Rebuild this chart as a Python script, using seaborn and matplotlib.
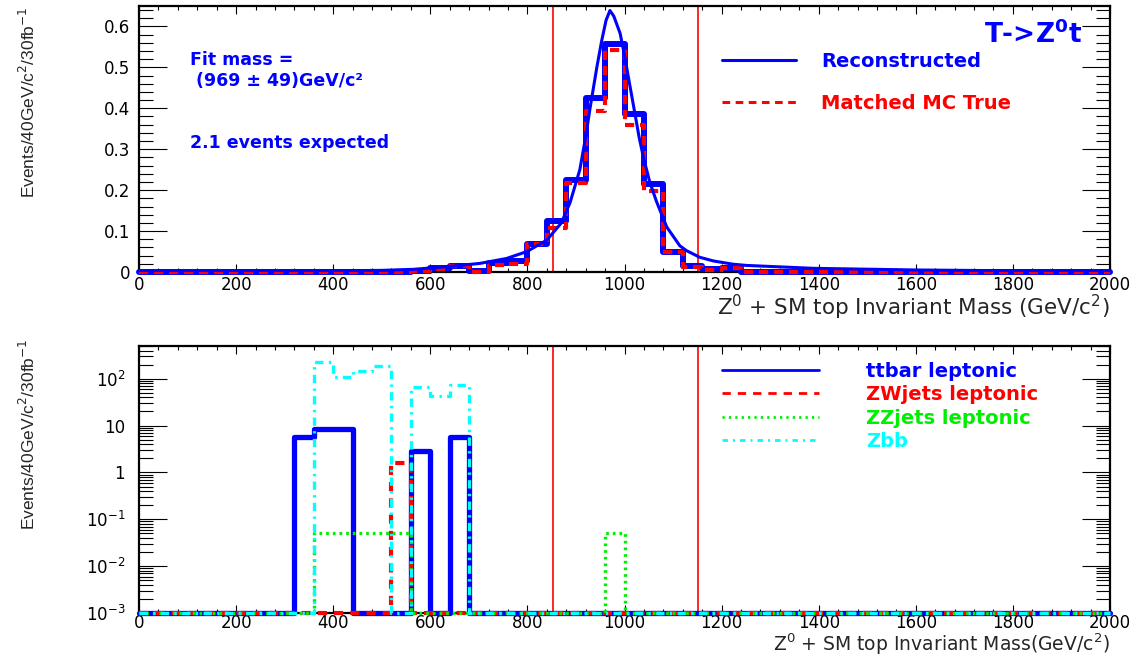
import numpy as np
import matplotlib
matplotlib.use("Agg")
import matplotlib.pyplot as plt
import seaborn as sns
from matplotlib.lines import Line2D
from matplotlib.ticker import MultipleLocator, FixedLocator, FixedFormatter, LogLocator, NullFormatter, FuncFormatter

# ---------------- data ----------------
bin_edges = np.arange(0, 2001, 40)          # 50 bins of 40 GeV

# top panel: signal T -> Z0 t  (bin index = edge/40)
reconstructed = [0]*14 + [0.003, 0.010, 0.015, 0.002, 0.021, 0.027, 0.068, 0.125, 0.224,
                          0.426, 0.558, 0.387, 0.214, 0.048, 0.015, 0.0065, 0.010, 0.001] + [0]*18
matched_mc = [0]*14 + [0.002, 0.008, 0.014, 0.000, 0.016, 0.020, 0.068, 0.107, 0.218,
                       0.393, 0.543, 0.358, 0.198, 0.048, 0.012, 0.006, 0.010, 0.001] + [0]*18

# fitted curve, points
fit_x = [0, 200, 400, 500, 565, 634, 702, 757, 799, 840, 870, 888, 908, 920, 929, 943, 953, 962,
         970, 978, 991, 1000, 1008, 1018, 1030, 1039, 1052, 1066, 1087, 1114, 1128, 1155, 1183, 1224,
         1252, 1389, 1595, 1800, 2000]
fit_y = [0.001, 0.0015, 0.003, 0.004, 0.0065, 0.013, 0.021, 0.033, 0.050, 0.078, 0.12, 0.170,
         0.250, 0.330, 0.40, 0.50, 0.565, 0.615, 0.639, 0.625, 0.583, 0.53, 0.476, 0.41, 0.33,
         0.280, 0.220, 0.172, 0.110, 0.064, 0.052, 0.036, 0.027, 0.019, 0.016, 0.009, 0.005, 0.003, 0.002]

# bottom panel: backgrounds
ttbar = [0]*8 + [5.7, 8.4, 8.4, 0, 0, 0, 2.8, 0, 5.7] + [0]*33
zwjets = [0]*13 + [1.58] + [0]*36
zzjets = [0]*9 + [0.052]*5 + [0]*10 + [0.052] + [0]*25
zbb = [0]*9 + [223, 109, 148, 183, 0, 68, 42, 72] + [0]*33

cut_window = [852, 1152]
fit_text = ["Fit mass =", " (969 \u00b1 49)GeV/c\u00b2", "2.1 events expected"]
log_ticks = [1e-3, 1e-2, 1e-1, 1, 10, 100]
log_labels = [r"$10^{-3}$", r"$10^{-2}$", r"$10^{-1}$", "1", "10", r"$10^{2}$"]

# ---------------- style ----------------
sns.set_theme(style="ticks")
plt.rcParams["font.family"] = ["DejaVu Sans"]
plt.rcParams["mathtext.fontset"] = "dejavusans"

BLUE, RED, GREEN, CYAN = "#0000ff", "#ff0000", "#00ee00", "#00ffff"
W, H = 1147, 656
fig = plt.figure(figsize=(W/100, H/100), dpi=100)
fig.patch.set_facecolor("white")
ax1 = fig.add_axes([139/W, 1-272/H, 971/W, 266/H])
ax2 = fig.add_axes([139/W, 1-613/H, 971/W, 267/H])


def step_line(ax, vals, color, lw, ls, floor=None, z=3):
    y = np.asarray(vals, float)
    if floor is not None:
        y = np.maximum(y, floor)
    y = np.append(y, y[-1])
    sns.lineplot(x=bin_edges, y=y, ax=ax, color=color, linewidth=lw, linestyle=ls,
                 drawstyle="steps-post", estimator=None, sort=False, clip_on=False, zorder=z)


def style_axis(ax, ypad, xpad):
    for s in ax.spines.values():
        s.set_linewidth(1.6)
        s.set_color("black")
    ax.tick_params(which="both", direction="in", top=True, right=True, colors="black",
                   width=0.8, labelsize=12)
    ax.tick_params(axis="x", which="major", length=5.5, pad=xpad)
    ax.tick_params(axis="x", which="minor", length=2.8)
    ax.tick_params(axis="y", which="major", length=20, pad=ypad)
    ax.tick_params(axis="y", which="minor", length=10)
    ax.set_xlim(0, 2000)
    ax.xaxis.set_major_locator(MultipleLocator(200))
    ax.xaxis.set_minor_locator(MultipleLocator(40))
    ax.set_facecolor("white")


# ---------------- top panel ----------------
step_line(ax1, reconstructed, BLUE, 4.3, "-", z=3)
step_line(ax1, matched_mc, RED, 3.0, (0, (2.2, 1.4)), z=4)
sns.lineplot(x=fit_x, y=fit_y, ax=ax1, color=BLUE, linewidth=2.2, estimator=None, sort=False, zorder=5)
for xc in cut_window:
    ax1.axvline(xc, color=RED, lw=1.2, zorder=2)
ax1.set_ylim(0, 0.65)
ax1.yaxis.set_major_locator(MultipleLocator(0.1))
ax1.yaxis.set_minor_locator(MultipleLocator(0.02))
ax1.yaxis.set_major_formatter(FuncFormatter(lambda v, p: f"{v:g}"))
style_axis(ax1, 6.5, 3)

ylab = "Events/40GeV/c$^2$/30fb$^{-1}$"
for ax, yy in ((ax1, 1.0), (ax2, 1.03)):
    ax.set_ylabel(ylab, loc="top", fontsize=12.5, family=["Liberation Sans Narrow", "Liberation Sans"])
    ax.yaxis.set_label_coords(-0.104, yy)

ax1.set_xlabel("Z$^0$ + SM top Invariant Mass (GeV/c$^2$)", loc="right", fontsize=15.5)
ax1.xaxis.set_label_coords(1.0, -0.078)

txt_kw = dict(transform=fig.transFigure, color=BLUE, fontsize=12.5, fontweight="bold",
              va="center", ha="left")
ax1.text(190/W, 1-60/H, fit_text[0], **txt_kw)
ax1.text(190/W, 1-81/H, fit_text[1], **txt_kw)
ax1.text(190/W, 1-143/H, fit_text[2], **txt_kw)
ax1.text(1082/W, 1-35/H, r"T->Z$^{\mathbf{0}}$t", transform=fig.transFigure, color=BLUE,
         fontsize=19, fontweight="bold", va="center", ha="right")

h_top = [Line2D([], [], color=BLUE, lw=2.2, ls="-"),
         Line2D([], [], color=RED, lw=2.2, ls=(0, (2.5, 1.8)))]
ax1.legend(h_top, ["Reconstructed", "Matched MC True"], loc="upper left",
           bbox_to_anchor=(722/W, 1-52/H), bbox_transform=fig.transFigure, frameon=False,
           prop={"weight": "bold", "size": 14}, labelcolor=[BLUE, RED],
           handlelength=3.8, handletextpad=1.3, labelspacing=1.16, borderpad=0, borderaxespad=0)

# ---------------- bottom panel ----------------
ax2.set_yscale("log")
floor = 1e-3
step_line(ax2, ttbar, BLUE, 3.8, "-", floor, z=3)
step_line(ax2, zwjets, RED, 3.0, (0, (2.2, 1.7)), floor, z=4)
step_line(ax2, zzjets, GREEN, 2.4, (0, (0.8, 1.2)), floor, z=5)
step_line(ax2, zbb, CYAN, 2.4, (0, (2.5, 1.6, 0.7, 1.6)), floor, z=6)
for xc in cut_window:
    ax2.axvline(xc, color=RED, lw=1.2, zorder=2)
ax2.set_ylim(1e-3, 500)
ax2.yaxis.set_major_locator(FixedLocator(log_ticks))
ax2.yaxis.set_major_formatter(FixedFormatter(log_labels))
ax2.yaxis.set_minor_locator(LogLocator(base=10, subs=np.arange(2, 10)))
ax2.yaxis.set_minor_formatter(NullFormatter())
style_axis(ax2, 10, 1)
ax2.set_xlabel("Z$^0$ + SM top Invariant Mass(GeV/c$^2$)", loc="right", fontsize=13.5)
ax2.xaxis.set_label_coords(1.0, -0.070)

h_bot = [Line2D([], [], color=BLUE, lw=2.0, ls="-"),
         Line2D([], [], color=RED, lw=2.0, ls=(0, (3, 2.5))),
         Line2D([], [], color=GREEN, lw=2.0, ls=(0, (0.8, 1.5))),
         Line2D([], [], color=CYAN, lw=2.0, ls=(0, (2, 1.8, 0.7, 1.8)))]
ax2.legend(h_bot, ["ttbar leptonic", "ZWjets leptonic", "ZZjets leptonic", "Zbb"], loc="upper left",
           bbox_to_anchor=(722/W, 1-362/H), bbox_transform=fig.transFigure, frameon=False,
           prop={"weight": "bold", "size": 14}, labelcolor=[BLUE, RED, GREEN, CYAN],
           handlelength=5.0, handletextpad=2.4, labelspacing=0.22, borderpad=0, borderaxespad=0)

fig.savefig("out.png", dpi=100, facecolor="white")
